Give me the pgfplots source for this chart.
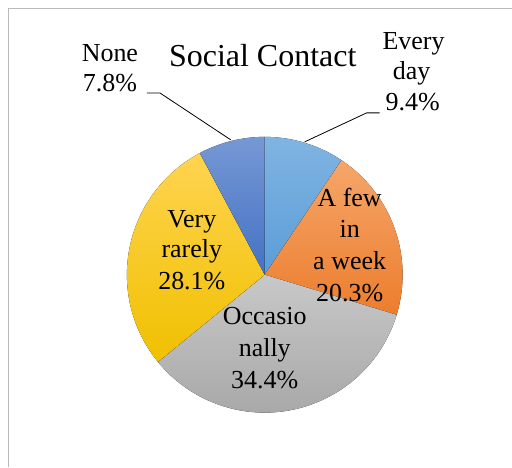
\documentclass[border=0pt]{standalone}
\usepackage{pgfplots}
\usepackage{pgfplotstable}
\pgfplotsset{compat=1.18}
\usepackage{fontspec}
\setmainfont{Liberation Serif}
\newfontfamily\tnr{Liberation Serif}
\definecolor{edA}{RGB}{128,180,226}\definecolor{edB}{RGB}{91,157,215}
\definecolor{fwA}{RGB}{245,166,106}\definecolor{fwB}{RGB}{236,125,45}
\definecolor{ocA}{RGB}{200,200,200}\definecolor{ocB}{RGB}{165,165,165}
\definecolor{vrA}{RGB}{255,212,80}\definecolor{vrB}{RGB}{240,192,0}
\definecolor{noA}{RGB}{118,152,212}\definecolor{noB}{RGB}{68,114,196}
\pgfplotstableread{
label value
Everyday 9.4
Afew 20.3
Occasionally 34.4
Veryrarely 28.1
None 7.8
}\piedata
\tikzset{lab/.style={anchor=base, inner sep=0pt, font=\tnr\fontsize{26}{31}\selectfont}}
\begin{document}
\begin{tikzpicture}
\pgfplotstablegetelem{0}{value}\of\piedata\let\vA\pgfplotsretval
\pgfplotstablegetelem{1}{value}\of\piedata\let\vB\pgfplotsretval
\pgfplotstablegetelem{2}{value}\of\piedata\let\vC\pgfplotsretval
\pgfplotstablegetelem{3}{value}\of\piedata\let\vD\pgfplotsretval
\pgfplotstablegetelem{4}{value}\of\piedata\let\vE\pgfplotsretval
\pgfmathsetmacro\aA{90}
\pgfmathsetmacro\aB{\aA-3.6*\vA}
\pgfmathsetmacro\aC{\aB-3.6*\vB}
\pgfmathsetmacro\aD{\aC-3.6*\vC}
\pgfmathsetmacro\aE{\aD-3.6*\vD}
\pgfmathsetmacro\aF{\aE-3.6*\vE}
\begin{axis}[scale only axis, width=512pt, height=467pt,
  xmin=0, xmax=512, ymin=0, ymax=467, hide axis, clip=false]
\path (axis cs:0,0) rectangle (axis cs:512,467);
\draw[gray!55, line width=1pt] (axis cs:9,0) -- (axis cs:9,458) -- (axis cs:512,458);
\def\cx{265}\def\cy{192}
\fill[top color=edA, bottom color=edB] (axis cs:\cx,\cy) -- ++(\aA:138pt) arc[start angle=\aA, end angle=\aB, radius=138pt] -- cycle;
\fill[top color=fwA, bottom color=fwB] (axis cs:\cx,\cy) -- ++(\aB:138pt) arc[start angle=\aB, end angle=\aC, radius=138pt] -- cycle;
\fill[top color=ocA, bottom color=ocB] (axis cs:\cx,\cy) -- ++(\aC:138pt) arc[start angle=\aC, end angle=\aD, radius=138pt] -- cycle;
\fill[top color=vrA, bottom color=vrB] (axis cs:\cx,\cy) -- ++(\aD:138pt) arc[start angle=\aD, end angle=\aE, radius=138pt] -- cycle;
\fill[top color=noA, bottom color=noB] (axis cs:\cx,\cy) -- ++(\aE:138pt) arc[start angle=\aE, end angle=\aF, radius=138pt] -- cycle;
% leader lines
\draw[black, line width=0.8pt] (axis cs:147,374) -- (axis cs:160,374) -- (axis cs:231,327);
\draw[black, line width=0.8pt] (axis cs:380,354) -- (axis cs:367,354) -- (axis cs:305,325);
% title
\node[anchor=base, inner sep=0pt, font=\tnr\fontsize{32}{38}\selectfont] at (axis cs:263,400) {Social Contact};
\node[lab] at (axis cs:110,405) {None};
\node[lab] at (axis cs:110,375) {7.8\%};
\node[lab] at (axis cs:414,417) {Every};
\node[lab] at (axis cs:412,387) {day};
\node[lab] at (axis cs:413,356) {9.4\%};
\node[lab] at (axis cs:350,260) {A few};
\node[lab] at (axis cs:350,229) {in};
\node[lab] at (axis cs:350,197) {a week};
\node[lab] at (axis cs:350,165) {20.3\%};
\node[lab] at (axis cs:192,239) {Very};
\node[lab] at (axis cs:192,209) {rarely};
\node[lab] at (axis cs:192,177) {28.1\%};
\node[lab] at (axis cs:265,142) {Occasio};
\node[lab] at (axis cs:265,110) {nally};
\node[lab] at (axis cs:265,78) {34.4\%};
\end{axis}
\end{tikzpicture}
\end{document}
